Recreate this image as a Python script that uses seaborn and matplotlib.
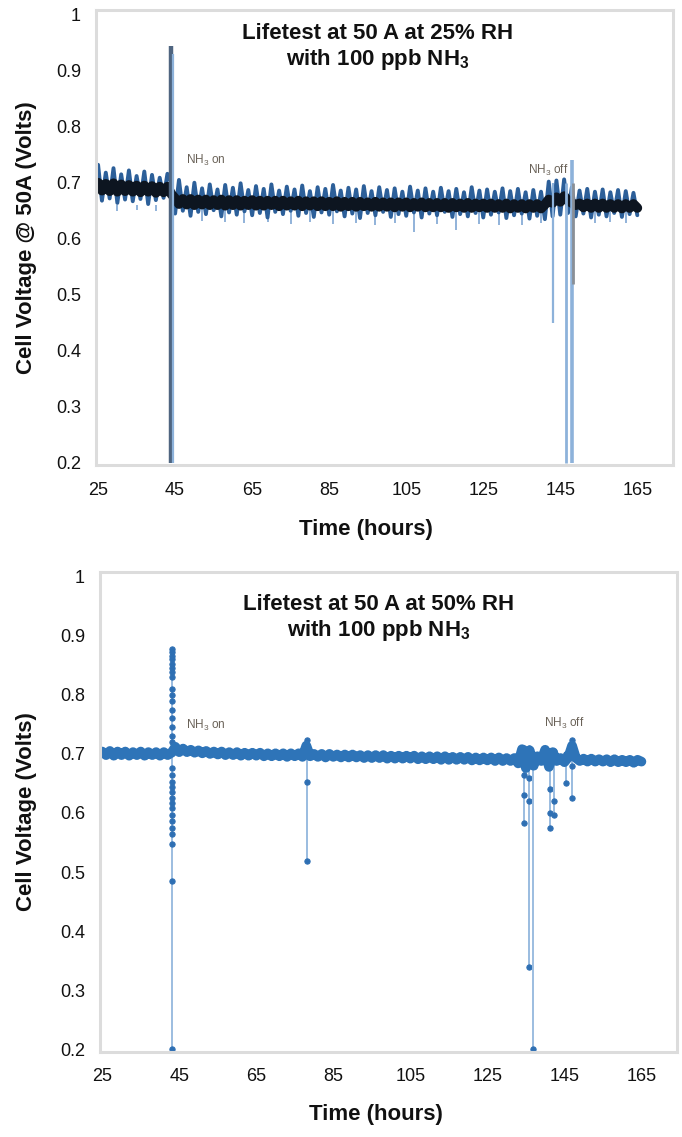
import matplotlib
matplotlib.use("Agg")
import matplotlib.pyplot as plt
import seaborn as sns
import pandas as pd

# ---- data ----
hours = [25, 26, 27, 28, 29, 30, 31, 32, 33, 34, 35, 36, 37, 38, 39, 40, 41, 42, 43, 44,
         45, 46, 47, 48, 49, 50, 51, 52, 53, 54, 55, 56, 57, 58, 59, 60, 61, 62, 63, 64,
         65, 66, 67, 68, 69, 70, 71, 72, 73, 74, 75, 76, 77, 78, 79, 80, 81, 82, 83, 84,
         85, 86, 87, 88, 89, 90, 91, 92, 93, 94, 95, 96, 97, 98, 99, 100, 101, 102, 103, 104,
         105, 106, 107, 108, 109, 110, 111, 112, 113, 114, 115, 116, 117, 118, 119, 120, 121, 122, 123, 124,
         125, 126, 127, 128, 129, 130, 131, 132, 133, 134, 135, 136, 137, 138, 139, 140, 141, 142, 143, 144,
         145, 146, 147, 148, 149, 150, 151, 152, 153, 154, 155, 156, 157, 158, 159, 160, 161, 162, 163, 164,
         165]

# 25% RH: noisy blue envelope and black core
volts_25_blue = [0.732, 0.668, 0.718, 0.672, 0.726, 0.664, 0.715, 0.670, 0.722, 0.667,
                 0.712, 0.671, 0.720, 0.662, 0.714, 0.669, 0.709, 0.673, 0.716, 0.700,
                 0.645, 0.705, 0.650, 0.692, 0.641, 0.700, 0.648, 0.690, 0.644, 0.697,
                 0.651, 0.688, 0.640, 0.696, 0.647, 0.691, 0.643, 0.699, 0.649, 0.687,
                 0.642, 0.694, 0.646, 0.689, 0.638, 0.697, 0.648, 0.686, 0.644, 0.693,
                 0.650, 0.688, 0.641, 0.695, 0.646, 0.685, 0.639, 0.692, 0.647, 0.689,
                 0.643, 0.696, 0.649, 0.686, 0.640, 0.691, 0.645, 0.688, 0.637, 0.694,
                 0.646, 0.685, 0.642, 0.692, 0.648, 0.687, 0.639, 0.690, 0.644, 0.684,
                 0.641, 0.693, 0.647, 0.686, 0.638, 0.690, 0.645, 0.684, 0.642, 0.691,
                 0.648, 0.685, 0.639, 0.689, 0.644, 0.683, 0.640, 0.692, 0.646, 0.686,
                 0.638, 0.688, 0.643, 0.684, 0.647, 0.690, 0.637, 0.685, 0.642, 0.689,
                 0.645, 0.683, 0.636, 0.687, 0.641, 0.684, 0.635, 0.702, 0.640, 0.704,
                 0.643, 0.706, 0.646, 0.692, 0.640, 0.686, 0.645, 0.689, 0.638, 0.684,
                 0.643, 0.688, 0.640, 0.683, 0.646, 0.687, 0.639, 0.685, 0.644, 0.682,
                 0.642]
volts_25_core = [0.700, 0.686, 0.698, 0.685, 0.699, 0.684, 0.697, 0.685, 0.696, 0.684,
                 0.695, 0.683, 0.695, 0.684, 0.694, 0.682, 0.693, 0.683, 0.693, 0.680,
                 0.672, 0.662, 0.671, 0.661, 0.671, 0.660, 0.670, 0.661, 0.670, 0.660,
                 0.669, 0.660, 0.670, 0.659, 0.669, 0.660, 0.669, 0.659, 0.668, 0.660,
                 0.669, 0.659, 0.668, 0.659, 0.668, 0.660, 0.668, 0.658, 0.668, 0.659,
                 0.667, 0.659, 0.668, 0.658, 0.667, 0.659, 0.667, 0.658, 0.667, 0.658,
                 0.666, 0.658, 0.667, 0.657, 0.666, 0.658, 0.666, 0.657, 0.666, 0.658,
                 0.665, 0.657, 0.666, 0.657, 0.665, 0.657, 0.665, 0.656, 0.665, 0.657,
                 0.665, 0.656, 0.664, 0.657, 0.665, 0.656, 0.664, 0.656, 0.664, 0.656,
                 0.664, 0.655, 0.664, 0.656, 0.663, 0.655, 0.664, 0.655, 0.663, 0.656,
                 0.663, 0.655, 0.663, 0.655, 0.662, 0.655, 0.663, 0.654, 0.662, 0.655,
                 0.662, 0.654, 0.662, 0.655, 0.662, 0.654, 0.661, 0.670, 0.664, 0.674,
                 0.666, 0.676, 0.668, 0.664, 0.660, 0.663, 0.656, 0.663, 0.655, 0.663,
                 0.655, 0.663, 0.655, 0.662, 0.655, 0.662, 0.654, 0.662, 0.655, 0.662,
                 0.655]
drop_hours_25 = [30, 35, 40, 52, 58, 63, 69, 75, 80, 86, 92, 97, 102, 107, 113, 118,
                 124, 129, 135, 140, 154, 158, 162]
drop_volts_25 = [0.650, 0.652, 0.650, 0.632, 0.630, 0.628, 0.630, 0.627, 0.630, 0.626,
                 0.628, 0.625, 0.628, 0.612, 0.627, 0.615, 0.626, 0.625, 0.624, 0.628,
                 0.628, 0.630, 0.629]
spike_hours_25 = [44.0, 44.4, 143.2, 146.6, 148.0, 148.3]
spike_low_25 = [0.20, 0.20, 0.45, 0.20, 0.20, 0.52]
spike_high_25 = [0.945, 0.93, 0.70, 0.70, 0.74, 0.70]
spike_colors_25 = ["#4f6580", "#8db2da", "#8db2da", "#8db2da", "#8db2da", "#8a8f96"]

# 50% RH: band plus excursions
volts_50 = [0.704, 0.698, 0.705, 0.697, 0.704, 0.698, 0.704, 0.697, 0.703, 0.698,
            0.704, 0.697, 0.703, 0.698, 0.703, 0.697, 0.703, 0.698, 0.702, 0.712,
            0.703, 0.709, 0.703, 0.707, 0.702, 0.706, 0.701, 0.705, 0.700, 0.704,
            0.699, 0.704, 0.698, 0.703, 0.698, 0.703, 0.697, 0.702, 0.697, 0.702,
            0.697, 0.702, 0.696, 0.701, 0.696, 0.701, 0.696, 0.701, 0.695, 0.701,
            0.696, 0.701, 0.695, 0.714, 0.696, 0.700, 0.695, 0.700, 0.694, 0.700,
            0.695, 0.699, 0.694, 0.699, 0.694, 0.699, 0.694, 0.698, 0.693, 0.698,
            0.693, 0.698, 0.693, 0.698, 0.692, 0.697, 0.692, 0.697, 0.692, 0.697,
            0.692, 0.697, 0.691, 0.696, 0.691, 0.696, 0.691, 0.696, 0.690, 0.696,
            0.690, 0.695, 0.690, 0.695, 0.690, 0.695, 0.689, 0.694, 0.689, 0.694,
            0.689, 0.694, 0.688, 0.694, 0.688, 0.693, 0.688, 0.693, 0.684, 0.708,
            0.676, 0.706, 0.680, 0.696, 0.688, 0.707, 0.678, 0.703, 0.688, 0.693,
            0.686, 0.694, 0.714, 0.693, 0.688, 0.692, 0.687, 0.692, 0.687, 0.691,
            0.687, 0.691, 0.686, 0.691, 0.686, 0.690, 0.686, 0.690, 0.685, 0.690,
            0.687]
event_hours_50 = [43.2, 78.2, 134.6, 135.8, 136.9, 141.3, 142.3, 145.4, 147.0]
event_volts_50 = [
    [0.705, 0.877, 0.872, 0.866, 0.860, 0.853, 0.845, 0.838, 0.830, 0.810, 0.800,
     0.790, 0.775, 0.760, 0.745, 0.730, 0.720, 0.676, 0.664, 0.653, 0.644, 0.636,
     0.625, 0.617, 0.609, 0.597, 0.586, 0.575, 0.564, 0.547, 0.485, 0.200],
    [0.723, 0.653, 0.519, 0.700],
    [0.710, 0.664, 0.631, 0.583, 0.700],
    [0.710, 0.660, 0.620, 0.340, 0.700],
    [0.700, 0.200],
    [0.705, 0.640, 0.600, 0.575, 0.700],
    [0.705, 0.620, 0.597, 0.700],
    [0.700, 0.650, 0.700],
    [0.723, 0.680, 0.625, 0.700],
]

x_ticks = [25, 45, 65, 85, 105, 125, 145, 165]
y_ticks = [0.2, 0.3, 0.4, 0.5, 0.6, 0.7, 0.8, 0.9, 1.0]
y_tick_labels = ["0.2", "0.3", "0.4", "0.5", "0.6", "0.7", "0.8", "0.9", "1"]

sns.set_theme(style="white")
plt.rcParams["font.family"] = ["Liberation Sans", "DejaVu Sans"]
plt.rcParams["mathtext.fontset"] = "custom"
plt.rcParams["mathtext.rm"] = "Liberation Sans"
plt.rcParams["mathtext.bf"] = "Liberation Sans:bold"

fig = plt.figure(figsize=(6.82, 11.37), dpi=100)
ax1 = fig.add_axes([0.141, 0.591, 0.846, 0.400])
ax2 = fig.add_axes([0.147, 0.075, 0.846, 0.422])


def style_axes(ax, ylabel, xlab_x, xlab_y, ylab_x):
    ax.set_xlim(24.5, 174.3)
    ax.set_ylim(0.196, 1.008)
    ax.set_xticks(x_ticks)
    ax.set_yticks(y_ticks)
    ax.set_yticklabels(y_tick_labels)
    ax.tick_params(axis="x", length=0, pad=12, labelsize=13, labelcolor="#111111")
    ax.tick_params(axis="y", length=0, pad=11, labelsize=13, labelcolor="#111111")
    for sp in ax.spines.values():
        sp.set_color("#dcdcdc")
        sp.set_linewidth(2.2)
    ax.set_xlabel("Time (hours)", fontsize=16, fontweight="bold", color="#111111")
    ax.set_ylabel(ylabel, fontsize=16, fontweight="bold", color="#111111")
    ax.xaxis.set_label_coords(xlab_x, xlab_y)
    ax.yaxis.set_label_coords(ylab_x, 0.5)
    ax.grid(False)


# ---- top panel: 25% RH ----
ax1.vlines(drop_hours_25, drop_volts_25, 0.66, color="#7ea6d3", lw=1.2)
sns.lineplot(x=hours, y=volts_25_blue, ax=ax1, color="#2c5f99", lw=2.8,
             estimator=None, sort=False)
sns.lineplot(x=hours, y=volts_25_core, ax=ax1, color="#0d1520", lw=7,
             estimator=None, sort=False)
lw_spikes = [3.2, 1.6, 1.6, 2.0, 2.6, 2.0]
for h, lo, hi, c, w in zip(spike_hours_25, spike_low_25, spike_high_25,
                           spike_colors_25, lw_spikes):
    ax1.vlines(h, lo, hi, color=c, lw=w)
ax1.text(0.488, 0.918, "Lifetest at 50 A at 25% RH\nwith 100 ppb NH$_{\\mathbf{3}}$",
         transform=ax1.transAxes, ha="center", va="center", fontsize=16,
         fontweight="bold", linespacing=1.15, color="#111111")
ax1.text(53, 0.740, "NH$_3$ on", fontsize=8.5, color="#6a6258", ha="center", va="center")
ax1.text(141.8, 0.722, "NH$_3$ off", fontsize=8.5, color="#6a6258", ha="center", va="center")
style_axes(ax1, "Cell Voltage @ 50A (Volts)", 0.468, -0.119, -0.103)

# ---- bottom panel: 50% RH ----
for h, v in zip(event_hours_50, event_volts_50):
    df = pd.DataFrame({"hour": [h] * len(v), "volt": v})
    sns.lineplot(data=df, x="hour", y="volt", ax=ax2, color="#9cbde0", lw=1.4,
                 estimator=None, sort=False, marker="o", markersize=3.8,
                 markerfacecolor="#2e6fb3", markeredgecolor="#2e6fb3")
sns.lineplot(x=hours, y=volts_50, ax=ax2, color="#2e74b8", lw=7, estimator=None,
             sort=False, marker="o", markersize=5, markeredgewidth=0)
ax2.text(0.482, 0.903, "Lifetest at 50 A at 50% RH\nwith 100 ppb NH$_{\\mathbf{3}}$",
         transform=ax2.transAxes, ha="center", va="center", fontsize=16,
         fontweight="bold", linespacing=1.2, color="#111111")
ax2.text(52, 0.748, "NH$_3$ on", fontsize=8.5, color="#6a6258", ha="center", va="center")
ax2.text(145, 0.752, "NH$_3$ off", fontsize=8.5, color="#6a6258", ha="center", va="center")
style_axes(ax2, "Cell Voltage (Volts)", 0.477, -0.108, -0.110)

fig.savefig("out.png", dpi=100)
